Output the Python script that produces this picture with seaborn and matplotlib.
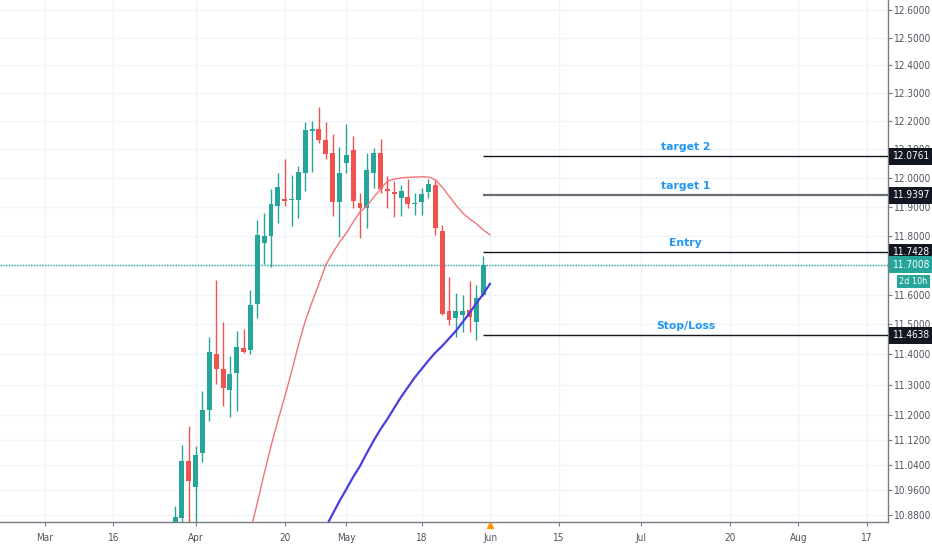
import numpy as np
import pandas as pd
import matplotlib
matplotlib.use('Agg')
import matplotlib.pyplot as plt
from matplotlib.ticker import FixedLocator, FixedFormatter, NullLocator
import seaborn as sns

# daily candles, first visible bar on 2020-03-27 (business days only)
candle_start = '2020-03-27'
opens = [10.820, 10.872, 11.053, 10.970, 11.077, 11.217, 11.403, 11.351, 11.282, 11.338,
         11.422, 11.414, 11.568, 11.775, 11.799, 11.902, 11.927, 11.922, 11.923, 12.016,
         12.166, 12.171, 12.133, 12.087, 11.917, 12.053, 12.098, 11.914, 11.896, 12.016,
         12.088, 11.961, 11.952, 11.931, 11.935, 11.909, 11.915, 11.950, 11.977, 11.817,
         11.544, 11.520, 11.533, 11.547, 11.508, 11.598]
highs = [10.909, 11.104, 11.166, 11.100, 11.280, 11.457, 11.649, 11.508, 11.395, 11.478,
         11.484, 11.615, 11.854, 11.877, 11.960, 12.018, 12.065, 12.010, 12.040, 12.197,
         12.200, 12.249, 12.197, 12.156, 12.107, 12.189, 12.148, 11.946, 12.086, 12.105,
         12.136, 12.007, 11.989, 11.975, 11.998, 11.946, 11.964, 11.998, 11.998, 11.837,
         11.658, 11.604, 11.598, 11.646, 11.632, 11.731]
lows = [10.800, 10.850, 10.855, 10.855, 11.050, 11.181, 11.302, 11.230, 11.195, 11.215,
        11.405, 11.401, 11.520, 11.703, 11.694, 11.845, 11.902, 11.832, 11.860, 11.955,
        12.021, 12.121, 12.065, 11.868, 11.797, 12.016, 11.894, 11.792, 11.826, 11.966,
        11.946, 11.896, 11.866, 11.869, 11.894, 11.871, 11.871, 11.929, 11.802, 11.530,
        11.497, 11.459, 11.473, 11.476, 11.448, 11.595]
closes = [10.874, 11.053, 10.989, 11.071, 11.217, 11.407, 11.351, 11.288, 11.334, 11.423,
          11.409, 11.565, 11.802, 11.798, 11.909, 11.967, 11.921, 11.928, 12.021, 12.170,
          12.171, 12.133, 12.084, 11.917, 12.018, 12.082, 11.919, 11.894, 12.027, 12.088,
          11.961, 11.954, 11.944, 11.954, 11.908, 11.914, 11.943, 11.978, 11.826, 11.534,
          11.514, 11.545, 11.544, 11.523, 11.590, 11.7008]

# moving averages (shown one bar forward)
red_ma_start = '2020-04-13'
red_ma = [10.830, 10.918, 11.011, 11.100, 11.182, 11.260, 11.342, 11.431, 11.511, 11.575,
          11.636, 11.700, 11.741, 11.778, 11.809, 11.847, 11.883, 11.902, 11.933, 11.961,
          11.989, 11.996, 12.000, 12.002, 12.003, 12.004, 12.003, 11.994, 11.968, 11.937,
          11.906, 11.878, 11.858, 11.841, 11.820, 11.803]
blue_ma_start = '2020-04-28'
blue_ma = [10.842, 10.883, 10.924, 10.962, 11.001, 11.036, 11.078, 11.118, 11.155, 11.188,
           11.224, 11.260, 11.292, 11.324, 11.352, 11.380, 11.406, 11.428, 11.453, 11.478,
           11.508, 11.538, 11.571, 11.602, 11.637]

last_price = 11.7008
countdown = '2d 10h'
levels = [12.0761, 11.9397, 11.7428, 11.4638]
level_names = ['target 2', 'target 1', 'Entry', 'Stop/Loss']
level_colors = ['#131722', '#6a6d78', '#131722', '#131722']
level_widths = [1.0, 1.6, 1.0, 1.0]

y_ticks = [12.6, 12.5, 12.4, 12.3, 12.2, 12.1, 12.0, 11.9, 11.8, 11.7, 11.6, 11.5,
           11.4, 11.3, 11.2, 11.12, 11.04, 10.96, 10.88]
x_tick_dates = ['2020-03-02', '2020-03-16', '2020-04-01', '2020-04-20', '2020-05-01',
                '2020-05-18', '2020-06-01', '2020-06-15', '2020-07-01', '2020-07-20',
                '2020-08-03', '2020-08-17']
x_tick_labels = ['Mar', '16', 'Apr', '20', 'May', '18', 'Jun', '15', 'Jul', '20', 'Aug', '17']

days = pd.bdate_range('2020-03-02', '2020-09-30')


def positions(start, n):
    i0 = days.get_loc(pd.Timestamp(start))
    return np.arange(i0, i0 + n)


sns.set_theme(style='white')
plt.rcParams['font.family'] = ['DejaVu Sans']
plt.rcParams['font.stretch'] = 'condensed'

GREEN = '#26a69a'
RED = '#ef5350'
AXFONT = 7.2

fig = plt.figure(figsize=(9.32, 5.5), dpi=100)
ax = fig.add_axes([0, 28 / 550, 888 / 932, 522 / 550])
ax.set_yscale('log')

o = np.array(opens)
h = np.array(highs)
l = np.array(lows)
c = np.array(closes)
xs = positions(candle_start, len(o))
cols = np.where(c >= o, GREEN, RED)
ax.vlines(xs, l, h, colors=cols, lw=1, zorder=3)
body = np.maximum(np.abs(c - o), 0.003)
ax.bar(xs, body, bottom=np.minimum(o, c), width=0.72, color=cols, lw=0, zorder=3)

sns.lineplot(x=positions(red_ma_start, len(red_ma)), y=red_ma, ax=ax,
             color='#f07478', lw=1, zorder=4)
sns.lineplot(x=positions(blue_ma_start, len(blue_ma)), y=blue_ma, ax=ax,
             color='#4a3ee0', lw=1.6, zorder=4)

ax.axhline(last_price, color=GREEN, ls=(0, (1, 1)), lw=1, zorder=2)

last_x = xs[-1]
x_right = 123.1
mid_x = (last_x + x_right) / 2
for p, name, col, w in zip(levels, level_names, level_colors, level_widths):
    ax.hlines(p, last_x, x_right + 5, colors=col, lw=w, zorder=5)
    ax.annotate(name, xy=(mid_x, p), xytext=(0, 3), textcoords='offset points',
                ha='center', va='bottom', color='#2196f3', fontsize=7.8,
                fontweight='bold', fontstretch='normal')

ax.set_xlim(-6.57, x_right)
ax.set_ylim(10.858, 12.637)

ax.yaxis.set_major_locator(FixedLocator(y_ticks))
ax.yaxis.set_major_formatter(FixedFormatter([f'{v:.4f}' for v in y_ticks]))
ax.yaxis.set_minor_locator(NullLocator())
ax.yaxis.tick_right()
tick_pos = [days.get_loc(pd.Timestamp(d)) for d in x_tick_dates]
ax.set_xticks(tick_pos)
ax.set_xticklabels(x_tick_labels)

ax.grid(True, color='#f0f3fa', lw=1)
ax.set_axisbelow(True)
for s in ['left', 'top']:
    ax.spines[s].set_visible(False)
for s in ['right', 'bottom']:
    ax.spines[s].set_color('#787b86')
    ax.spines[s].set_linewidth(1)
ax.tick_params(axis='y', which='major', right=True, left=False, length=3, width=0.8,
               color='#787b86', labelsize=AXFONT, labelcolor='#50535e', pad=1.5)
ax.tick_params(axis='x', which='major', bottom=True, length=3, width=0.8,
               color='#787b86', labelsize=AXFONT, labelcolor='#50535e', pad=5)

# price boxes on the right axis
ytr = ax.get_yaxis_transform()
for p in levels:
    ax.annotate(f'{p:.4f}', xy=(1, p), xycoords=ytr, xytext=(3.5, 0),
                textcoords='offset points', ha='left', va='center', color='white',
                fontsize=AXFONT, annotation_clip=False, zorder=10,
                bbox=dict(boxstyle='square,pad=0.35', fc='#131722', ec='none'))
ax.annotate(f'{last_price:.4f}', xy=(1, last_price), xycoords=ytr, xytext=(3.5, 0),
            textcoords='offset points', ha='left', va='center', color='white',
            fontsize=AXFONT, annotation_clip=False, zorder=10,
            bbox=dict(boxstyle='square,pad=0.35', fc=GREEN, ec='none'))
ax.annotate(countdown, xy=(1, last_price), xycoords=ytr, xytext=(8, -12),
            textcoords='offset points', ha='left', va='center', color='white',
            fontsize=6.5, annotation_clip=False, zorder=10,
            bbox=dict(boxstyle='square,pad=0.25', fc=GREEN, ec='none'))

# small event marker under the axis
ax.plot([days.get_loc(pd.Timestamp('2020-06-01'))], [-0.005], marker='^', ms=4,
        color='#ff9800', transform=ax.get_xaxis_transform(), clip_on=False, zorder=10)

plt.savefig('out.png', dpi=100)
